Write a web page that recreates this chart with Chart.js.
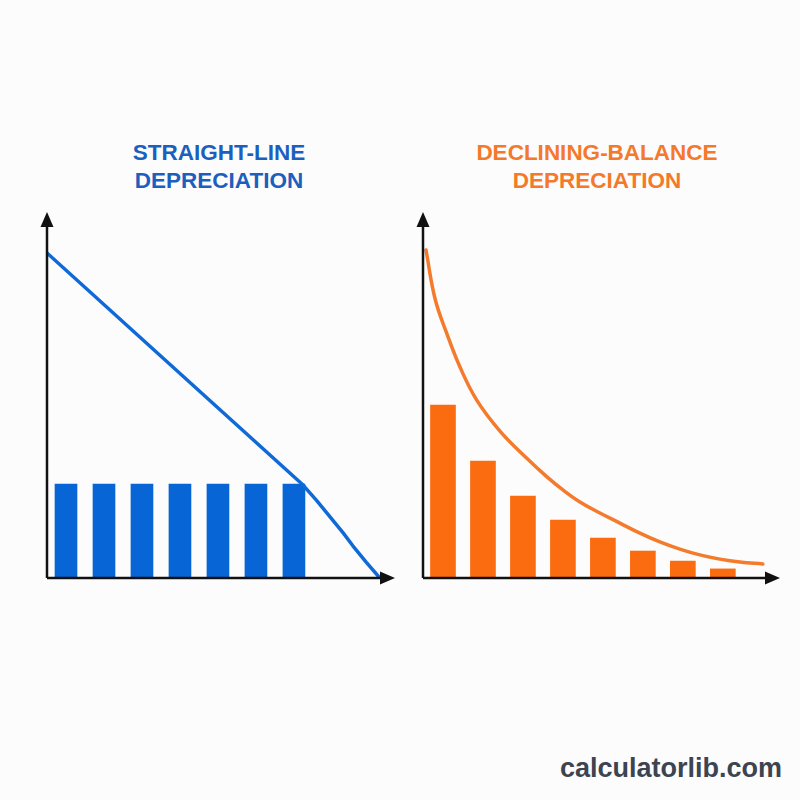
<!DOCTYPE html>
<html>
<head>
<meta charset="utf-8">
<script src="https://cdn.jsdelivr.net/npm/chart.js@4.4.1/dist/chart.umd.min.js"></script>
<style>
  html, body { margin: 0; padding: 0; background: #fcfcfc; }
  #wrap { position: relative; width: 800px; height: 800px; overflow: hidden; background: #fcfcfc; }
  .title { position: absolute; text-align: center; font-family: "Liberation Sans", Arial, sans-serif; font-weight: bold; font-size: 22.5px; line-height: 28px; }
  #t1 { left: 89px; width: 260px; top: 139px; color: #1d5fbd; }
  #t2 { left: 447px; width: 300px; top: 139px; color: #f4792a; }
  .box { position: absolute; top: 190px; width: 400px; height: 410px; }
  #b1 { left: 0; }
  #b2 { left: 400px; }
  #wm { position: absolute; left: 560px; top: 753px; font-family: "Liberation Sans", Arial, sans-serif; font-weight: bold; font-size: 27px; color: #3d4451; }
</style>
</head>
<body>
<div id="wrap">
  <div class="title" id="t1">STRAIGHT-LINE<br>DEPRECIATION</div>
  <div class="title" id="t2">DECLINING-BALANCE<br>DEPRECIATION</div>
  <div class="box" id="b1"><canvas id="c1" width="400" height="410"></canvas></div>
  <div class="box" id="b2"><canvas id="c2" width="400" height="410"></canvas></div>
  <div id="wm">calculatorlib.com</div>
</div>
<script>
// ---- Straight-line panel ----
const slYears = [0.5, 1.5, 2.5, 3.5, 4.5, 5.5, 6.5];
const slDepreciation = [28.9, 28.9, 28.9, 28.9, 28.9, 28.9, 28.9];
const slBookX = [0, 6.74, 7.1, 7.45, 7.8, 8.05, 8.4, 8.76];
const slBookY = [100, 28.6, 23.8, 18.8, 13.8, 9.9, 4.9, 0];

// ---- Declining-balance panel ----
const dbYears = [0.5, 1.5, 2.5, 3.5, 4.5, 5.5, 6.5, 7.5];
const dbDepreciation = [53.2, 36, 25.2, 17.8, 12.3, 8.3, 5.2, 2.8];
const dbBookX = [0.075, 0.3, 0.59, 0.925, 1.34, 1.925, 2.59, 3.1, 3.5, 3.925, 4.425, 4.925, 5.425, 5.925, 6.425, 6.925, 7.425, 7.925, 8.5];
const dbBookY = [100.9, 86, 75.4, 64.9, 54.8, 45.2, 36.9, 31.1, 27.1, 23.4, 20, 16.9, 13.8, 11.1, 8.9, 7.1, 5.8, 4.9, 4.3];

const BLUE = '#0765d6';
const ORANGE = '#fb6b10';
const ORANGE_LINE = '#f47a2c';

const arrowAxes = {
  id: 'arrowAxes',
  afterDatasetsDraw(chart) {
    const ctx = chart.ctx;
    const xs = chart.scales.x, ys = chart.scales.y;
    const x0 = xs.getPixelForValue(0), y0 = ys.getPixelForValue(0);
    const xEnd = xs.getPixelForValue(xs.max), yEnd = ys.getPixelForValue(ys.max);
    ctx.save();
    ctx.strokeStyle = '#111';
    ctx.fillStyle = '#111';
    ctx.lineWidth = 2.5;
    ctx.beginPath();
    ctx.moveTo(x0, y0);
    ctx.lineTo(xEnd - 10, y0);
    ctx.moveTo(x0, y0);
    ctx.lineTo(x0, yEnd + 10);
    ctx.stroke();
    ctx.beginPath();
    ctx.moveTo(xEnd, y0);
    ctx.lineTo(xEnd - 15, y0 - 6.5);
    ctx.lineTo(xEnd - 15, y0 + 6.5);
    ctx.closePath();
    ctx.fill();
    ctx.beginPath();
    ctx.moveTo(x0, yEnd);
    ctx.lineTo(x0 - 6.5, yEnd + 15);
    ctx.lineTo(x0 + 6.5, yEnd + 15);
    ctx.closePath();
    ctx.fill();
    ctx.restore();
  }
};

function makeChart(id, barX, barY, lineX, lineY, barColor, lineColor, xMax, pad, barW, tension) {
  return new Chart(document.getElementById(id), {
    type: 'bar',
    data: {
      datasets: [
        {
          type: 'line',
          data: lineX.map((x, i) => ({ x: x, y: lineY[i] })),
          borderColor: lineColor,
          borderWidth: 3.5,
          pointRadius: 0,
          tension: tension,
          cubicInterpolationMode: 'default',
          borderJoinStyle: 'round',
          borderCapStyle: 'round',
          fill: false,
          order: 0
        },
        {
          type: 'bar',
          data: barX.map((x, i) => ({ x: x, y: barY[i] })),
          backgroundColor: barColor,
          borderWidth: 0,
          barThickness: barW,
          order: 1
        }
      ]
    },
    options: {
      responsive: false,
      animation: false,
      layout: { padding: pad },
      plugins: { legend: { display: false }, tooltip: { enabled: false }, title: { display: false } },
      scales: {
        x: { type: 'linear', min: 0, max: xMax, display: false, offset: false },
        y: { type: 'linear', min: 0, max: 112.6, display: false }
      }
    },
    plugins: [arrowAxes]
  });
}

makeChart('c1', slYears, slDepreciation, slBookX, slBookY, BLUE, '#0f6ad8', 9.16,
  { left: 47, right: 5, top: 22, bottom: 22 }, 22, 0);
makeChart('c2', dbYears, dbDepreciation, dbBookX, dbBookY, ORANGE, ORANGE_LINE, 8.93,
  { left: 23, right: 20, top: 22, bottom: 22 }, 25, 0.4);
</script>
</body>
</html>
